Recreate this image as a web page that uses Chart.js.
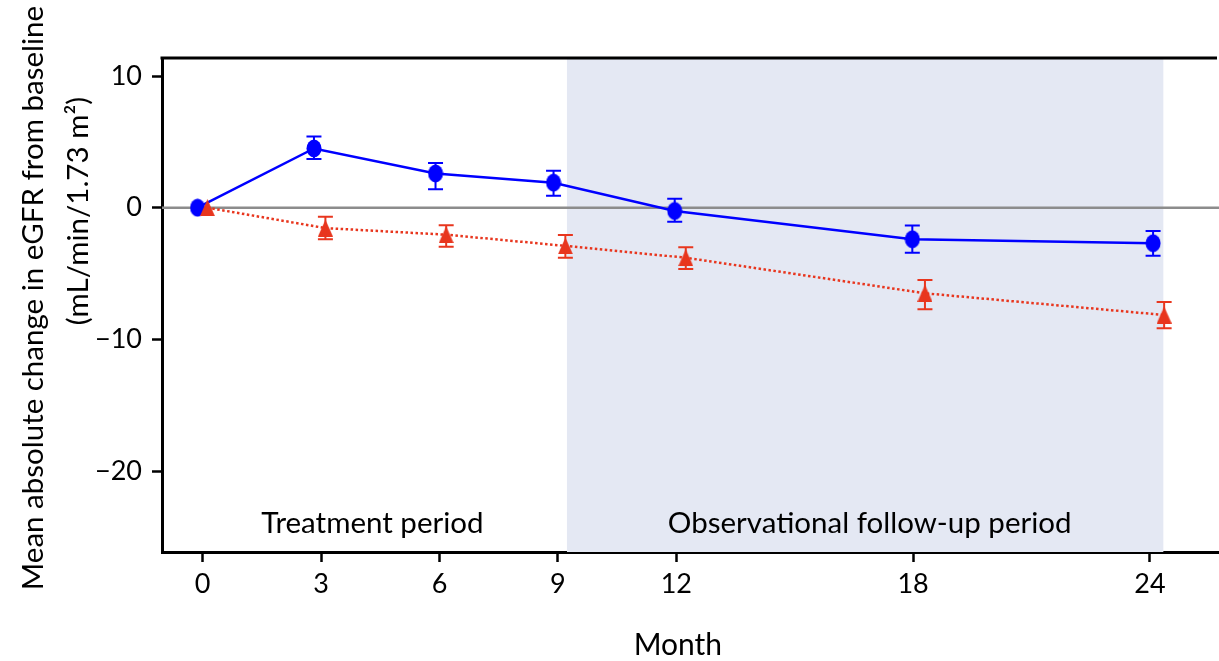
<!DOCTYPE html>
<html lang="en">
<head>
    <meta charset="UTF-8">
    <title>eGFR change</title>
    <style>
        body { margin: 0; background: #fff; }
        #wrap { width: 1219px; height: 661px; }
    </style>
</head>
<body>
    <div id="wrap">
        <canvas id="chart" width="1219" height="661"></canvas>
    </div>
    <script src="https://cdn.jsdelivr.net/npm/chart.js@4/dist/chart.umd.min.js"></script>
    <script>
        // month ticks on the x axis and y ticks
        const xTicks = [0, 3, 6, 9, 12, 18, 24]
        const yTicks = [-20, -10, 0, 10]

        // blue group (points are dodged slightly left)
        const blueX = [-0.13, 2.82, 5.9, 8.89, 11.96, 17.98, 24.08]
        const blueMean = [0, 4.5, 2.6, 1.9, -0.25, -2.4, -2.7]
        const blueUpper = [0, 5.4, 3.4, 2.8, 0.68, -1.35, -1.77]
        const blueLower = [0, 3.7, 1.4, 0.9, -1.06, -3.42, -3.64]

        // red group (dodged slightly right)
        const redX = [0.12, 3.11, 6.17, 9.19, 12.24, 18.3, 24.36]
        const redMean = [0, -1.55, -2.05, -2.9, -3.8, -6.5, -8.15]
        const redUpper = [0, -0.68, -1.34, -2.07, -3.0, -5.49, -7.16]
        const redLower = [0, -2.4, -2.96, -3.8, -4.65, -7.72, -9.16]

        // observational follow-up shading (months)
        const followUp = [9.23, 24.34]

        const BLUE = '#0000ff'
        const RED = '#e8361e'
        const SHADE = '#e4e8f3'
        const FONT = 'Lato'

        // marker images
        function ellipseMarker() {
            const c = document.createElement('canvas')
            c.width = 16; c.height = 19
            const g = c.getContext('2d')
            g.fillStyle = BLUE
            g.beginPath()
            g.ellipse(8, 9.5, 7.5, 9, 0, 0, Math.PI * 2)
            g.fill()
            return c
        }
        function triangleMarker() {
            const c = document.createElement('canvas')
            c.width = 15; c.height = 17
            const g = c.getContext('2d')
            g.fillStyle = RED
            g.beginPath()
            g.moveTo(7.5, 0)
            g.lineTo(15, 17)
            g.lineTo(0, 17)
            g.closePath()
            g.fill()
            return c
        }

        const toPoints = (xs, ys) => xs.map((x, i) => ({ x: x, y: ys[i] }))

        const decorations = {
            id: 'decorations',
            beforeDatasetsDraw(chart) {
                const { ctx, chartArea, scales } = chart
                const x0 = scales.x.getPixelForValue(followUp[0])
                const x1 = scales.x.getPixelForValue(followUp[1])
                ctx.save()
                ctx.fillStyle = SHADE
                ctx.fillRect(x0, chartArea.top, x1 - x0, chartArea.bottom - chartArea.top)
                // zero reference line
                const y0 = scales.y.getPixelForValue(0)
                ctx.strokeStyle = '#8c8c8c'
                ctx.lineWidth = 2.5
                ctx.beginPath()
                ctx.moveTo(chartArea.left, y0)
                ctx.lineTo(chartArea.right, y0)
                ctx.stroke()
                ctx.restore()
            },
            afterDatasetsDraw(chart) {
                const { ctx, chartArea, scales } = chart
                ctx.save()
                // error bars
                const bars = [
                    [blueX, blueUpper, blueLower, BLUE],
                    [redX, redUpper, redLower, RED],
                ]
                bars.forEach(([xs, up, lo, col]) => {
                    ctx.strokeStyle = col
                    ctx.lineWidth = 2
                    xs.forEach((x, i) => {
                        if (up[i] === lo[i]) return
                        const px = scales.x.getPixelForValue(x)
                        const pu = scales.y.getPixelForValue(up[i])
                        const pl = scales.y.getPixelForValue(lo[i])
                        ctx.beginPath()
                        ctx.moveTo(px, pu); ctx.lineTo(px, pl)
                        ctx.moveTo(px - 7.5, pu); ctx.lineTo(px + 7.5, pu)
                        ctx.moveTo(px - 7.5, pl); ctx.lineTo(px + 7.5, pl)
                        ctx.stroke()
                    })
                })

                // top frame line
                ctx.strokeStyle = '#000'
                ctx.lineWidth = 3
                ctx.beginPath()
                ctx.moveTo(chartArea.left - 1.5, chartArea.top)
                ctx.lineTo(chartArea.right - 2, chartArea.top)
                ctx.stroke()

                // period labels
                ctx.fillStyle = '#000'
                ctx.font = '29.5px ' + FONT
                ctx.textAlign = 'center'
                ctx.textBaseline = 'middle'
                const ly = scales.y.getPixelForValue(-24)
                ctx.fillText('Treatment period', scales.x.getPixelForValue(4.3), ly)
                ctx.fillText('Observational follow-up period', scales.x.getPixelForValue(16.9), ly)

                // x title
                ctx.font = '30px ' + FONT
                ctx.fillText('Month', scales.x.getPixelForValue(12.04), 645)

                // y title, two lines
                ctx.font = '29.5px ' + FONT
                ctx.translate(33, 298)
                ctx.rotate(-Math.PI / 2)
                ctx.fillText('Mean absolute change in eGFR from baseline', 0, 0)
                ctx.rotate(Math.PI / 2)
                ctx.translate(78 - 33, 211 - 298)
                ctx.rotate(-Math.PI / 2)
                ctx.fillText('(mL/min/1.73 m\u00b2)', 0, 0)
                ctx.restore()
            },
        }

        const minus = v => (v < 0 ? '\u2212' + Math.abs(v) : String(v))

        new Chart(document.getElementById('chart'), {
            type: 'line',
            data: {
                datasets: [
                    {
                        label: 'red',
                        data: toPoints(redX, redMean),
                        borderColor: RED,
                        borderWidth: 2.5,
                        borderDash: [2.5, 2.5],
                        pointStyle: triangleMarker(),
                        pointRadius: 8,
                        fill: false,
                    },
                    {
                        label: 'blue',
                        data: toPoints(blueX, blueMean),
                        borderColor: BLUE,
                        borderWidth: 2.5,
                        pointStyle: ellipseMarker(),
                        pointRadius: 8,
                        fill: false,
                    },
                ],
            },
            options: {
                responsive: false,
                animation: false,
                layout: { autoPadding: false, padding: { top: 58, right: 0, left: 0, bottom: 0 } },
                plugins: { legend: { display: false }, tooltip: { enabled: false } },
                scales: {
                    x: {
                        type: 'linear',
                        min: -1.03,
                        max: 25.75,
                        afterBuildTicks: s => { s.ticks = xTicks.map(v => ({ value: v })) },
                        afterFit: s => { s.height = 109; s.paddingLeft = 0; s.paddingRight = 0 },
                        border: { color: '#000', width: 3 },
                        grid: { drawOnChartArea: false, tickColor: '#000', tickWidth: 2.5, tickLength: 10 },
                        ticks: { color: '#000', padding: 6, maxRotation: 0, font: { family: FONT, size: 27 } },
                    },
                    y: {
                        min: -26.15,
                        max: 11.37,
                        afterBuildTicks: s => { s.ticks = yTicks.map(v => ({ value: v })) },
                        afterFit: s => { s.width = 162; s.paddingTop = 0; s.paddingBottom = 0 },
                        border: { color: '#000', width: 3 },
                        grid: { drawOnChartArea: false, tickColor: '#000', tickWidth: 2.5, tickLength: 10 },
                        ticks: { color: '#000', padding: 10, callback: minus, font: { family: FONT, size: 27 } },
                    },
                },
            },
            plugins: [decorations],
        })
    </script>
</body>
</html>
